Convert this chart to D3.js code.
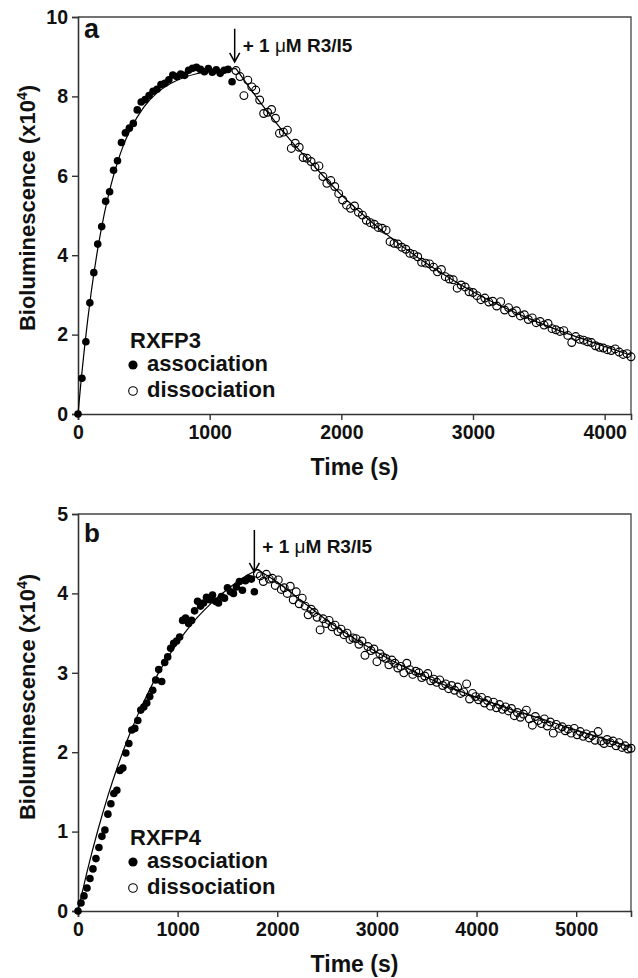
<!DOCTYPE html>
<html>
<head>
<meta charset="utf-8">
<script src="https://cdn.jsdelivr.net/npm/d3@7"></script>
<style>
    body { margin: 0; background: #fff; }
    svg text { font-family: "Liberation Sans", Arial, sans-serif; font-weight: bold; fill: #111; }
</style>
</head>
<body>
<div id="chart"></div>
<script>
// ---- panel a : RXFP3 ----
const assocStartA = 0, assocStepA = 30
const assocA = [0.00, 0.90, 1.82, 2.80, 3.56, 4.28, 4.72, 5.36, 5.60, 6.14,
    6.38, 6.84, 7.08, 7.20, 7.32, 7.66, 7.86, 7.92, 8.02, 8.13,
    8.18, 8.30, 8.33, 8.42, 8.54, 8.50, 8.56, 8.53, 8.66, 8.71,
    8.73, 8.68, 8.62, 8.70, 8.61, 8.67, 8.58, 8.66, 8.68, 8.37]
const dissocStartA = 1200, dissocStepA = 30
const dissocA = [8.65, 8.50, 8.02, 8.41, 8.24, 8.16, 7.91, 7.57, 7.60, 7.67,
    7.45, 7.07, 7.10, 7.15, 6.69, 6.82, 6.72, 6.46, 6.44, 6.36,
    6.22, 6.25, 5.98, 5.81, 5.88, 5.73, 5.55, 5.39, 5.26, 5.18,
    5.24, 5.08, 5.01, 4.88, 4.82, 4.78, 4.70, 4.68, 4.63, 4.34,
    4.30, 4.28, 4.20, 4.15, 4.05, 4.02, 3.96, 3.82, 3.80, 3.78,
    3.70, 3.58, 3.64, 3.46, 3.40, 3.38, 3.17, 3.25, 3.20, 3.08,
    3.06, 2.98, 2.88, 2.92, 2.82, 2.84, 2.72, 2.83, 2.62, 2.68,
    2.55, 2.60, 2.47, 2.50, 2.38, 2.42, 2.30, 2.33, 2.24, 2.28,
    2.15, 2.12, 2.08, 2.10, 1.98, 1.80, 1.95, 1.88, 1.86, 1.82,
    1.80, 1.72, 1.68, 1.66, 1.62, 1.60, 1.64, 1.56, 1.50, 1.52, 1.44]
const fitAssocTimeA = [0, 25, 50, 75, 100, 150, 200, 250, 300, 350, 400, 500, 600, 700, 800, 900, 1000, 1100, 1200]
const fitAssocA = [0, 0.89, 1.69, 2.41, 3.06, 4.16, 5.05, 5.76, 6.34, 6.81, 7.18, 7.73, 8.09, 8.32, 8.47, 8.57, 8.63, 8.67, 8.70]
const fitDissocTimeA = [1200, 1400, 1600, 1800, 2000, 2200, 2400, 2600, 2800, 3000, 3200, 3400, 3600, 3800, 4000, 4200]
const fitDissocA = [8.70, 7.78, 6.95, 6.22, 5.52, 4.92, 4.38, 3.90, 3.47, 3.08, 2.74, 2.44, 2.17, 1.93, 1.70, 1.48]
const xTicksA = [0, 1000, 2000, 3000, 4000]
const yTicksA = [0, 2, 4, 6, 8, 10]

// ---- panel b : RXFP4 ----
const assocStartB = 0, assocStepB = 30
const assocB = [0.00, 0.10, 0.19, 0.29, 0.41, 0.53, 0.66, 0.80, 0.94, 1.02,
    1.22, 1.35, 1.48, 1.52, 1.77, 1.80, 1.99, 2.11, 2.28, 2.30,
    2.40, 2.53, 2.57, 2.62, 2.70, 2.78, 2.91, 3.04, 2.89, 3.13,
    3.20, 3.31, 3.37, 3.40, 3.45, 3.66, 3.69, 3.62, 3.66, 3.78,
    3.90, 3.84, 3.88, 3.95, 3.92, 3.98, 3.90, 3.88, 3.96, 3.94,
    4.07, 4.02, 4.00, 4.08, 4.15, 4.04, 4.16, 4.19, 4.18, 4.02]
const dissocStartB = 1800, dissocStepB = 30
const dissocB = [4.25, 4.22, 4.15, 4.24, 4.18, 4.19, 4.10, 4.17, 4.05, 4.07,
    4.00, 4.09, 3.92, 4.02, 3.87, 3.94, 3.84, 3.73, 3.80, 3.76,
    3.70, 3.54, 3.68, 3.62, 3.66, 3.58, 3.60, 3.52, 3.55, 3.48,
    3.50, 3.42, 3.44, 3.43, 3.36, 3.40, 3.22, 3.33, 3.28, 3.30,
    3.14, 3.24, 3.20, 3.18, 3.10, 3.16, 3.12, 3.06, 3.08, 3.00,
    3.12, 3.04, 2.98, 3.02, 3.00, 2.94, 2.96, 2.99, 2.90, 2.92,
    2.88, 2.91, 2.84, 2.86, 2.80, 2.84, 2.78, 2.82, 2.74, 2.76,
    2.86, 2.67, 2.74, 2.70, 2.66, 2.69, 2.62, 2.65, 2.58, 2.63,
    2.56, 2.60, 2.54, 2.57, 2.52, 2.55, 2.46, 2.50, 2.44, 2.48,
    2.53, 2.42, 2.34, 2.45, 2.40, 2.36, 2.42, 2.33, 2.38, 2.24,
    2.35, 2.30, 2.32, 2.27, 2.29, 2.24, 2.30, 2.22, 2.26, 2.20,
    2.23, 2.18, 2.21, 2.15, 2.26, 2.14, 2.11, 2.16, 2.12, 2.14,
    2.08, 2.12, 2.06, 2.08, 2.04, 2.05]
const fitAssocTimeB = [0, 100, 200, 300, 400, 500, 600, 700, 800, 900, 1000, 1100, 1200, 1300, 1400, 1500, 1600, 1700, 1800]
const fitAssocB = [0, 0.54, 1.02, 1.45, 1.83, 2.17, 2.47, 2.74, 2.98, 3.19, 3.38, 3.55, 3.70, 3.83, 3.95, 4.05, 4.15, 4.23, 4.30]
const fitDissocTimeB = [1800, 2000, 2250, 2500, 2750, 3000, 3250, 3500, 3750, 4000, 4250, 4500, 4750, 5000, 5250, 5550]
const fitDissocB = [4.30, 4.14, 3.90, 3.66, 3.45, 3.26, 3.09, 2.94, 2.81, 2.69, 2.58, 2.48, 2.38, 2.28, 2.18, 2.06]
const xTicksB = [0, 1000, 2000, 3000, 4000, 5000]
const yTicksB = [0, 1, 2, 3, 4, 5]

const W = 638, H = 978

const svg = d3.select("#chart")
    .append("svg")
    .attr("width", W)
    .attr("height", H)

function toPoints(start, step, values) {
    return values.map((v, i) => ({ t: start + i * step, v: v }))
}

function toFit(times, values) {
    return times.map((t, i) => ({ t: t, v: values[i] }))
}

function drawPanel(p) {
    const width = p.right - p.left,
        height = p.bottom - p.top

    const g = svg.append("g")
        .attr("transform", `translate(${p.left},${p.top})`)

    const x = d3.scaleLinear().domain(p.xDomain).range([0, width])
    const y = d3.scaleLinear().domain(p.yDomain).range([height, 0])

    // box (top + right edges)
    g.append("path")
        .attr("d", `M0,0H${width}V${height}`)
        .attr("fill", "none")
        .attr("stroke", "#444")
        .attr("stroke-width", 1.3)

    const fmt = d3.format("d")
    const xAxis = g.append("g")
        .attr("transform", `translate(0,${height})`)
        .call(d3.axisBottom(x).tickValues(p.xTicks).tickSize(6).tickPadding(5).tickFormat(fmt))
    const yAxis = g.append("g")
        .call(d3.axisLeft(y).tickValues(p.yTicks).tickSize(6).tickPadding(4).tickFormat(fmt))

    for (const ax of [xAxis, yAxis]) {
        ax.select(".domain").attr("stroke", "#333").attr("stroke-width", 1.6)
        ax.selectAll(".tick line").attr("stroke", "#333").attr("stroke-width", 1.4)
        ax.selectAll(".tick text")
            .attr("font-size", 19.5)
            .attr("font-family", null)
            .style("font-family", "'Liberation Sans', Arial, sans-serif")
            .style("font-weight", "bold")
            .attr("fill", "#111")
    }

    const line = d3.line()
        .x(d => x(d.t))
        .y(d => y(d.v))
        .curve(d3.curveMonotoneX)

    // data points
    g.append("g")
        .selectAll("circle")
        .data(toPoints(p.assocStart, p.assocStep, p.assoc))
        .enter()
        .append("circle")
        .attr("cx", d => x(d.t))
        .attr("cy", d => y(d.v))
        .attr("r", 3.8)
        .attr("fill", "#000")

    g.append("g")
        .selectAll("circle")
        .data(toPoints(p.dissocStart, p.dissocStep, p.dissoc))
        .enter()
        .append("circle")
        .attr("cx", d => x(d.t))
        .attr("cy", d => y(d.v))
        .attr("r", 3.9)
        .attr("fill", "none")
        .attr("stroke", "#000")
        .attr("stroke-width", 1.15)

    // fitted curves
    for (const f of [toFit(p.fitAssocTime, p.fitAssoc), toFit(p.fitDissocTime, p.fitDissoc)]) {
        g.append("path")
            .datum(f)
            .attr("d", line)
            .attr("fill", "none")
            .attr("stroke", "#000")
            .attr("stroke-width", 1.2)
    }

    // panel letter
    g.append("text")
        .attr("x", 6)
        .attr("y", p.letterY)
        .attr("font-size", p.letterSize)
        .text(p.letter)

    // arrow + annotation
    const ax = x(p.arrowT), tip = y(p.arrowV), top = tip - p.arrowLen
    g.append("path")
        .attr("d", `M${ax},${top}V${tip}M${ax - 5},${tip - 9}L${ax},${tip}L${ax + 5},${tip - 9}`)
        .attr("fill", "none")
        .attr("stroke", "#000")
        .attr("stroke-width", 1.5)
    const note = g.append("text")
        .attr("x", ax + 8)
        .attr("y", top + 23)
        .attr("font-size", 19)
    note.append("tspan").text("+ 1 ")
    note.append("tspan").style("font-weight", "normal").text("\u03bc")
    note.append("tspan").text("M R3/I5")

    // legend
    const lx = 52, ly = height - 66
    g.append("text").attr("x", lx).attr("y", ly).attr("font-size", 22).text(p.receptor)
    g.append("circle").attr("cx", lx + 3).attr("cy", ly + 17).attr("r", 4.6).attr("fill", "#000")
    g.append("text").attr("x", lx + 17).attr("y", ly + 23).attr("font-size", 22).text("association")
    g.append("circle").attr("cx", lx + 3).attr("cy", ly + 43).attr("r", 4.3)
        .attr("fill", "none").attr("stroke", "#000").attr("stroke-width", 1.1)
    g.append("text").attr("x", lx + 17).attr("y", ly + 49).attr("font-size", 22).text("dissociation")

    // axis titles
    svg.append("text")
        .attr("x", (p.left + p.right) / 2)
        .attr("y", p.bottom + 61)
        .attr("text-anchor", "middle")
        .attr("font-size", 23)
        .text("Time (s)")

    const yt = svg.append("text")
        .attr("transform", `translate(35,${p.titleY}) rotate(-90)`)
        .attr("text-anchor", "middle")
        .attr("font-size", 22)
    yt.append("tspan").text("Bioluminescence (x10")
    yt.append("tspan").attr("dy", -8).attr("font-size", 14).text("4")
    yt.append("tspan").attr("dy", 8).text(")")
}

drawPanel({
    left: 78, right: 631, top: 17, bottom: 414,
    xDomain: [0, 4200], yDomain: [0, 10], xTicks: xTicksA, yTicks: yTicksA,
    assocStart: assocStartA, assocStep: assocStepA, assoc: assocA,
    dissocStart: dissocStartA, dissocStep: dissocStepA, dissoc: dissocA,
    fitAssocTime: fitAssocTimeA, fitAssoc: fitAssocA,
    fitDissocTime: fitDissocTimeA, fitDissoc: fitDissocA,
    letter: "a", letterY: 21, letterSize: 27,
    arrowT: 1190, arrowV: 8.87, arrowLen: 33,
    receptor: "RXFP3", titleY: 208
})

drawPanel({
    left: 78, right: 631, top: 514, bottom: 911,
    xDomain: [0, 5550], yDomain: [0, 5], xTicks: xTicksB, yTicks: yTicksB,
    assocStart: assocStartB, assocStep: assocStepB, assoc: assocB,
    dissocStart: dissocStartB, dissocStep: dissocStepB, dissoc: dissocB,
    fitAssocTime: fitAssocTimeB, fitAssoc: fitAssocB,
    fitDissocTime: fitDissocTimeB, fitDissoc: fitDissocB,
    letter: "b", letterY: 28, letterSize: 26,
    arrowT: 1770, arrowV: 4.27, arrowLen: 42,
    receptor: "RXFP4", titleY: 697
})
</script>
</body>
</html>
